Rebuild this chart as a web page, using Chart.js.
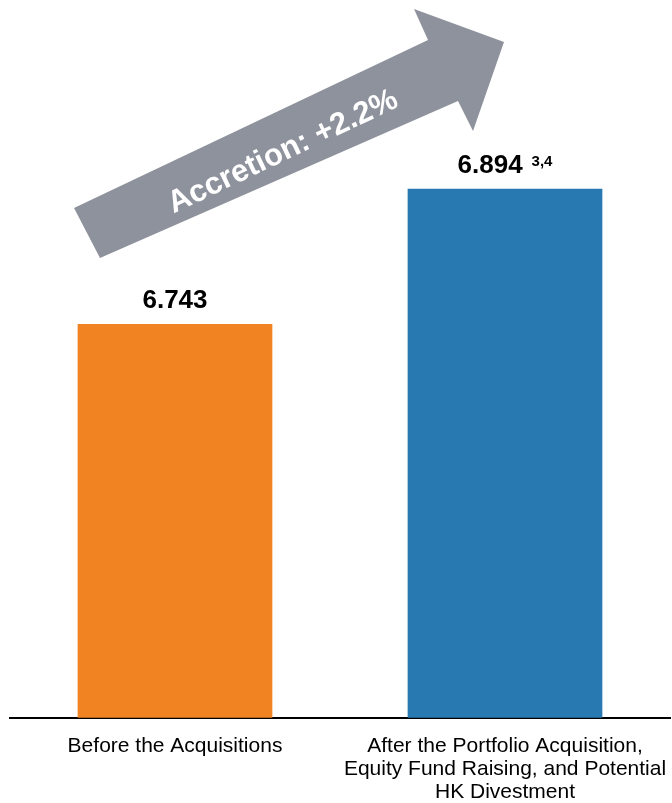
<!DOCTYPE html>
<html>
<head>
<meta charset="utf-8">
<script src="https://cdn.jsdelivr.net/npm/chart.js@4.4.0/dist/chart.umd.min.js"></script>
<style>
  html, body { margin: 0; padding: 0; background: #fff; }
  #wrap { width: 672px; height: 803px; }
</style>
</head>
<body>
<div id="wrap"><canvas id="dpuChart"></canvas></div>
<script>
const categories = [
  ["Before the Acquisitions"],
  ["After the Portfolio Acquisition,", "Equity Fund Raising, and Potential", "HK Divestment"],
];
const dpuValues = [6.743, 6.894];
const valueLabels = ["6.743", "6.894"];
const footnotes = ["", "3,4"];
const barColors = ["#F28322", "#2879B1"];
const arrowText = "Accretion: +2.2%";

// value labels above each bar, with optional superscript footnote
const valueLabelPlugin = {
  id: "valueLabels",
  afterDatasetsDraw(chart) {
    const ctx = chart.ctx;
    const bars = chart.getDatasetMeta(0).data;
    ctx.save();
    ctx.fillStyle = "#000";
    ctx.textBaseline = "alphabetic";
    bars.forEach((bar, i) => {
      ctx.font = "bold 26px 'Liberation Sans', Arial, sans-serif";
      const mainW = ctx.measureText(valueLabels[i]).width;
      let supW = 0;
      if (footnotes[i]) {
        ctx.font = "bold 15px 'Liberation Sans', Arial, sans-serif";
        supW = ctx.measureText(footnotes[i]).width + 9;
      }
      const startX = bar.x - (mainW + supW) / 2;
      const baseY = bar.y - 16;
      ctx.font = "bold 26px 'Liberation Sans', Arial, sans-serif";
      ctx.textAlign = "left";
      ctx.fillText(valueLabels[i], startX, baseY);
      if (footnotes[i]) {
        ctx.font = "bold 15px 'Liberation Sans', Arial, sans-serif";
        ctx.fillText(footnotes[i], startX + mainW + 9, baseY - 7);
      }
    });
    ctx.restore();
  },
};

// grey accretion arrow drawn over the chart
const arrowPlugin = {
  id: "accretionArrow",
  afterDraw(chart) {
    const ctx = chart.ctx;
    ctx.save();
    ctx.fillStyle = "#8E929C";
    ctx.beginPath();
    ctx.moveTo(74, 208);
    ctx.lineTo(428, 40);
    ctx.lineTo(414, 9);
    ctx.lineTo(504, 42);
    ctx.lineTo(473, 131);
    ctx.lineTo(458, 101);
    ctx.lineTo(100, 258);
    ctx.closePath();
    ctx.fill();

    ctx.translate(283, 152);
    ctx.rotate(-25.4 * Math.PI / 180);
    ctx.fillStyle = "#fff";
    ctx.font = "bold 31px 'Liberation Sans', Arial, sans-serif";
    ctx.textAlign = "center";
    ctx.textBaseline = "middle";
    ctx.fillText(arrowText, 0, 0);
    ctx.restore();
  },
};

new Chart(document.getElementById("dpuChart"), {
  type: "bar",
  data: {
    labels: categories,
    datasets: [
      {
        data: dpuValues,
        backgroundColor: barColors,
        barPercentage: 0.59,
        categoryPercentage: 1,
      },
    ],
  },
  options: {
    responsive: true,
    maintainAspectRatio: false,
    animation: false,
    layout: {
      padding: { left: 10, right: 2, top: 0, bottom: -10 },
    },
    plugins: {
      legend: { display: false },
      tooltip: { enabled: false },
    },
    scales: {
      x: {
        grid: { display: false },
        border: { display: true, color: "#000", width: 2 },
        ticks: {
          color: "#000",
          padding: 9,
          maxRotation: 0,
          autoSkip: false,
          font: { family: "'Liberation Sans', Arial, sans-serif", size: 21, lineHeight: 1.1 },
        },
        afterFit(scale) {
          // let the long label run to the canvas edge instead of shrinking the plot
          scale.paddingLeft = 0;
          scale.paddingRight = 0;
        },
      },
      y: {
        display: false,
        min: 6.303,
        max: 7.105,
      },
    },
  },
  plugins: [valueLabelPlugin, arrowPlugin],
});
</script>
</body>
</html>
